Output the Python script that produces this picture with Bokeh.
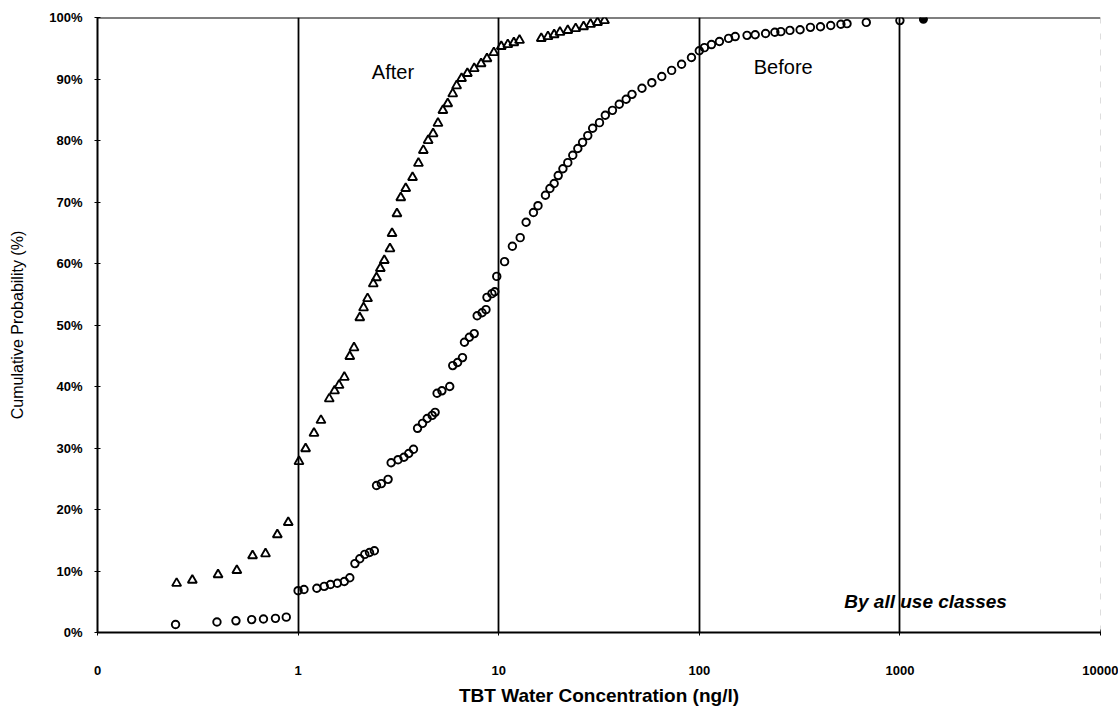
from bokeh.plotting import figure
from bokeh.models import FixedTicker, CustomJSTickFormatter, Span, Label
from bokeh.embed import file_html
from bokeh.resources import INLINE

# After (triangles): TBT concentration (ng/l) and cumulative probability (%)
after_conc = [0.248, 0.297, 0.399, 0.495, 0.593, 0.688, 0.788, 0.893,
              1.01, 1.09, 1.20, 1.30, 1.43, 1.52, 1.60, 1.70, 1.81, 1.90,
              2.03, 2.12, 2.22, 2.37, 2.46, 2.57, 2.69, 2.87,
              2.94, 3.11, 3.25, 3.44, 3.72,
              3.98, 4.21, 4.45, 4.71, 4.98, 5.27, 5.57, 5.90, 6.17,
              6.53, 6.98, 7.55, 8.17, 8.74, 9.46,
              10.3, 11.1, 11.9, 12.7,
              16.3, 17.6, 18.9, 20.2, 22.1, 24.2, 26.5, 28.7, 31.1, 33.7]
after_pct = [8.0, 8.5, 9.4, 10.1, 12.5, 12.8, 15.9, 17.9,
             27.8, 29.9, 32.4, 34.5, 38.0, 39.3, 40.2, 41.5, 44.9, 46.3,
             51.2, 52.8, 54.3, 56.7, 57.7, 59.2, 60.5, 62.4,
             64.9, 68.1, 70.7, 72.2, 74.0,
             76.3, 78.4, 80.0, 81.1, 82.8, 84.9, 86.0, 87.6, 88.9,
             90.1, 90.9, 91.7, 92.5, 93.3, 94.3,
             95.3, 95.6, 95.9, 96.3,
             96.6, 96.9, 97.2, 97.6, 97.9, 98.2, 98.5, 98.9, 99.2, 99.5]

# Before (circles)
before_conc = [0.245, 0.394, 0.490, 0.587, 0.672, 0.771, 0.873,
               1.00, 1.07, 1.24, 1.35, 1.45, 1.57, 1.70, 1.81,
               1.92, 2.03, 2.15, 2.27, 2.40,
               2.46, 2.60, 2.81,
               2.91, 3.15, 3.37, 3.56, 3.76,
               3.94, 4.17, 4.40, 4.66, 4.82,
               4.93, 5.21, 5.70,
               5.90, 6.24, 6.60,
               6.75, 7.14, 7.55,
               7.81, 8.26, 8.64,
               8.74, 9.25, 9.56,
               9.78,
               10.7, 11.7, 12.8, 13.7, 14.9, 15.7, 17.1, 18.0, 18.9, 19.8,
               20.9, 22.1, 23.4, 24.8, 26.2, 27.8, 29.4,
               31.8, 34.0, 36.9, 39.9, 43.2, 46.2, 51.8, 58.0, 65.0, 72.8,
               81.6, 91.4, 100,
               106, 115, 126, 140, 151, 173, 190, 214, 238, 255, 283, 318,
               358, 402, 452, 508, 545, 680, 1000, 1310]
before_pct = [1.3, 1.7, 1.9, 2.1, 2.2, 2.3, 2.5,
              6.8, 7.0, 7.2, 7.5, 7.8, 8.0, 8.3, 8.9,
              11.2, 12.0, 12.7, 13.0, 13.3,
              23.9, 24.2, 24.9,
              27.6, 28.1, 28.5, 29.1, 29.8,
              33.2, 34.0, 34.8, 35.3, 35.8,
              38.9, 39.3, 40.0,
              43.4, 43.9, 44.7,
              47.2, 48.0, 48.6,
              51.5, 52.0, 52.5,
              54.5, 55.1, 55.4,
              57.9,
              60.3, 62.8, 64.2, 66.7, 68.3, 69.4, 71.1, 72.2, 73.0, 74.3,
              75.4, 76.4, 77.6, 78.7, 79.7, 80.8, 82.0,
              82.9, 84.1, 84.9, 85.9, 86.7, 87.5, 88.5, 89.4, 90.4, 91.4,
              92.4, 93.5, 94.6,
              95.1, 95.6, 96.1, 96.6, 96.9, 97.1, 97.2, 97.4, 97.6, 97.7, 97.9, 98.0,
              98.4, 98.5, 98.7, 98.9, 99.0, 99.2, 99.5, 99.7]

x_ticks = [0.1, 1, 10, 100, 1000, 10000]
x_grid = [1, 10, 100, 1000]
y_ticks = [0, 10, 20, 30, 40, 50, 60, 70, 80, 90, 100]

FONT = "Liberation Sans"

p = figure(width=1118, height=710, x_axis_type="log",
           x_range=(0.1, 10000), y_range=(0, 100),
           output_backend="svg", toolbar_location=None,
           min_border_left=97, min_border_right=18,
           min_border_top=17, min_border_bottom=78)
p.outline_line_color = None
p.background_fill_color = "white"
p.border_fill_color = "white"

# Axes
p.xaxis.ticker = FixedTicker(ticks=x_ticks)
p.xaxis.formatter = CustomJSTickFormatter(code="return tick < 0.5 ? '0' : String(Math.round(tick));")
p.yaxis.ticker = FixedTicker(ticks=y_ticks)
p.yaxis.formatter = CustomJSTickFormatter(code="return tick.toFixed(0) + '%';")
for ax in (p.xaxis, p.yaxis):
    ax.axis_line_color = "black"
    ax.axis_line_width = 2
    ax.major_tick_line_color = "black"
    ax.major_tick_line_width = 1
    ax.major_tick_in = 3
    ax.major_tick_out = 3
    ax.minor_tick_line_color = None
    ax.major_label_text_font = FONT
    ax.major_label_text_font_style = "bold"
    ax.major_label_text_color = "black"
    ax.axis_label_text_color = "black"
    ax.axis_label_text_font = FONT

p.xaxis.major_label_text_font_size = "13px"
p.xaxis.major_label_standoff = 30
p.xaxis.axis_label = "TBT Water Concentration (ng/l)"
p.xaxis.axis_label_text_font_size = "19px"
p.xaxis.axis_label_text_font_style = "bold"
p.xaxis.axis_label_standoff = 7

p.yaxis.major_label_text_font_size = "13px"
p.yaxis.major_label_standoff = 12
p.yaxis.axis_label = "Cumulative Probability (%)"
p.yaxis.axis_label_text_font_size = "16px"
p.yaxis.axis_label_text_font_style = "normal"
p.yaxis.axis_label_standoff = 20

# Grid: vertical decade lines only
p.xgrid.ticker = FixedTicker(ticks=x_grid)
p.xgrid.grid_line_color = "black"
p.xgrid.grid_line_width = 1.8
p.ygrid.visible = False

# Frame top and right
p.add_layout(Span(location=100, dimension="width", line_color="black", line_width=2))
p.add_layout(Span(location=10000, dimension="height", line_color="#bbbbbb",
                  line_width=1, line_dash="6 10"))

# Series
p.scatter(after_conc, after_pct, marker="triangle", size=9, line_color="black",
          line_width=1.9, fill_color=None)
p.scatter(before_conc[:-1], before_pct[:-1], marker="circle", size=7.5, line_color="black",
          line_width=1.9, fill_color=None)
p.scatter(before_conc[-1:], before_pct[-1:], marker="circle", size=7.5, line_color="black",
          line_width=1.5, fill_color="black")

# Annotations
p.add_layout(Label(x=2.97, y=91.2, text="After", text_align="center", text_baseline="middle",
                   text_font=FONT, text_font_size="20px", text_color="black"))
p.add_layout(Label(x=262, y=92.0, text="Before", text_align="center", text_baseline="middle",
                   text_font=FONT, text_font_size="20px", text_color="black"))
p.add_layout(Label(x=1343, y=5.0, text="By all use classes", text_align="center",
                   text_baseline="middle", text_font=FONT, text_font_size="19px",
                   text_font_style="bold italic", text_color="black"))

open("out.html", "w").write(file_html(p, INLINE))
